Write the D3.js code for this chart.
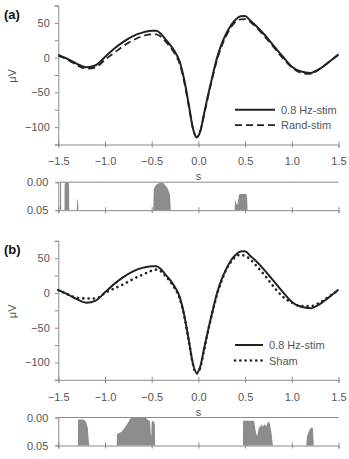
<!DOCTYPE html>
<html>
<head>
<meta charset="utf-8">
<script src="https://cdn.jsdelivr.net/npm/d3@7"></script>
<style>
    body { margin: 0; background: #fff; }
    svg { font-family: "Liberation Sans", Arial, sans-serif; }
</style>
</head>
<body>
<svg id="chart" width="349" height="459"></svg>
<script>
// time points (s) shared by the ERP curves
const times = [-1.5, -1.4, -1.3, -1.2, -1.1, -1.0, -0.9, -0.8, -0.7, -0.6, -0.5, -0.45, -0.4, -0.35,
    -0.3, -0.25, -0.2, -0.15, -0.1, -0.06, -0.02, 0.02, 0.06, 0.1, 0.15, 0.2, 0.25, 0.3, 0.35,
    0.4, 0.45, 0.5, 0.55, 0.6, 0.7, 0.8, 0.9, 1.0, 1.1, 1.2, 1.3, 1.4, 1.5];

// 0.8 Hz-stim (µV)
const stimVals = [4, -2, -9, -14, -11, 1, 13, 23, 31, 36, 38.5, 38.5, 34, 26,
    18, 8, -6, -33, -70, -101, -115, -106, -81, -56, -27, 0, 20, 35, 47,
    55, 59.5, 60, 54, 48, 34, 18, 2, -13, -20, -22, -16, -6, 5];

// Rand-stim (µV)
const randVals = [3, -3, -11, -16, -14, -3, 7, 17, 25, 31, 33.5, 33.5, 30, 23,
    15, 5, -9, -36, -72, -101, -114, -106, -83, -58, -29, -3, 17, 32, 44,
    52, 55, 55.5, 52, 46, 32, 16, 0, -14, -22, -23.5, -16, -6, 4];

// Sham (µV)
const shamVals = [4, -2, -7, -8, -8, 0, 6.5, 12.5, 20, 26, 32, 33.5, 31, 24,
    16, 6, -8, -35, -72, -102, -116, -108, -83, -57, -28, -2, 18, 34, 45,
    52, 55, 53, 49, 42, 27, 10, -5, -14, -19, -19, -14, -5, 4];

// p-values (below 0.05) for panel (a): [time, p]
const pTimesA = [-1.5, -1.482, -1.481, -1.470, -1.469,
    -1.434, -1.432, -1.425, -1.392, -1.385, -1.383,
    -1.302, -1.296, -1.289, -1.284,
    -0.483, -0.478, -0.465, -0.447, -0.411, -0.376, -0.358, -0.329, -0.304, -0.296,
    0.388, 0.393, 0.398, 0.410, 0.418, 0.432, 0.44, 0.514, 0.522, 0.526, 1.5];
const pValsA = [0.05, 0.05, 0.0, 0.0, 0.05,
    0.05, 0.004, 0.0, 0.0, 0.004, 0.05,
    0.05, 0.03, 0.032, 0.05,
    0.05, 0.012, 0.0077, 0.0036, 0.0012, 0.0015, 0.0048, 0.0107, 0.0226, 0.05,
    0.05, 0.031, 0.033, 0.040, 0.040, 0.024, 0.021, 0.021, 0.03, 0.05, 0.05];

// p-values for panel (b)
const pTimesB = [-1.5, -1.29, -1.288, -1.23, -1.205, -1.183, -1.176, -1.169,
    -0.874, -0.872, -0.82, -0.767, -0.731, -0.714, -0.571, -0.553, -0.518, -0.509, -0.505, -0.5, -0.482, -0.466, -0.464,
    0.477, 0.479, 0.596, 0.614, 0.628, 0.646, 0.674, 0.692, 0.710, 0.728, 0.745, 0.763, 0.781, 0.797,
    1.155, 1.162, 1.19, 1.208, 1.226, 1.236, 1.5];
const pValsB = [0.05, 0.05, 0.0036, 0.0036, 0.007, 0.019, 0.037, 0.05,
    0.05, 0.03, 0.025, 0.013, 0.0024, 0.0, 0.0, 0.0024, 0.0071, 0.031, 0.034, 0.0071, 0.006, 0.012, 0.05,
    0.05, 0.006, 0.006, 0.025, 0.034, 0.019, 0.013, 0.016, 0.012, 0.016, 0.007, 0.010, 0.025, 0.05,
    0.05, 0.034, 0.022, 0.018, 0.019, 0.05, 0.05];

const xTicks = [-1.5, -1.0, -0.5, 0.0, 0.5, 1.0, 1.5];
const yTicks = [-125, -100, -75, -50, -25, 0, 25, 50, 75];
const yLabels = [-100, -50, 0, 50];
const pTicks = [0, 0.05];

const svg = d3.select("#chart");
const axisColor = "#8a8a8a";
const textColor = "#555";

const x = d3.scaleLinear().domain([-1.5, 1.5]).range([58.3, 338.5]);

function drawPanel(top, letter, series, legendNames, pTimes, pVals) {
    const g = svg.append("g").attr("transform", `translate(0,${top})`);

    const y = d3.scaleLinear().domain([-125, 75]).range([139.8, 0.8]);

    // y axis
    const yAxis = g.append("g")
        .attr("transform", `translate(${x.range()[0]},0)`)
        .call(d3.axisLeft(y).tickValues(yTicks).tickSize(3.5).tickPadding(5)
            .tickFormat(d => yLabels.includes(d) ? d3.format("d")(d) : ""));

    // x axis
    const xAxis = g.append("g")
        .attr("transform", `translate(0,${y.range()[0]})`)
        .call(d3.axisBottom(x).tickValues(xTicks).tickSize(3).tickPadding(10)
            .tickFormat(d3.format(".1f")));
    xAxis.selectAll(".tick line").attr("y1", -3);

    [yAxis, xAxis].forEach(a => {
        a.select(".domain").attr("stroke", axisColor);
        a.selectAll(".tick line").attr("stroke", axisColor);
        a.selectAll(".tick text").attr("fill", textColor).style("font-size", "11px");
    });

    // axis titles
    g.append("text")
        .attr("transform", `translate(16,${y(-25) + 1}) rotate(-90)`)
        .attr("text-anchor", "middle")
        .attr("fill", textColor)
        .style("font-size", "11px")
        .text("μV");

    g.append("text")
        .attr("x", x(0))
        .attr("y", y.range()[0] + 36)
        .attr("text-anchor", "middle")
        .attr("fill", textColor)
        .style("font-size", "11px")
        .text("s");

    g.append("text")
        .attr("x", 4)
        .attr("y", 14)
        .attr("fill", "#111")
        .style("font-size", "13px")
        .style("font-weight", "bold")
        .text(`(${letter})`);

    // curves
    const line = d3.line()
        .x((d, i) => x(times[i]))
        .y(d => y(d))
        .curve(d3.curveMonotoneX);

    series.forEach(s => {
        g.append("path")
            .datum(s.values)
            .attr("fill", "none")
            .attr("stroke", "#222")
            .attr("stroke-width", s.width)
            .attr("stroke-dasharray", s.dash)
            .attr("stroke-linecap", s.cap)
            .attr("d", line);
    });

    // legend
    const legend = g.append("g");
    series.forEach((s, i) => {
        const ly = 105 + i * 15.5;
        legend.append("line")
            .attr("x1", 235).attr("x2", s.legendEnd)
            .attr("y1", ly).attr("y2", ly)
            .attr("stroke", "#222")
            .attr("stroke-width", s.width)
            .attr("stroke-dasharray", s.dash)
            .attr("stroke-linecap", s.cap);
        legend.append("text")
            .attr("x", s.legendEnd + 6)
            .attr("y", ly + 4)
            .attr("fill", textColor)
            .style("font-size", "11px")
            .text(legendNames[i]);
    });

    // p-value strip
    const p = d3.scaleLinear().domain([0, 0.05]).range([177.5, 205.5]);

    g.append("line")
        .attr("x1", x.range()[0]).attr("x2", x.range()[1])
        .attr("y1", p(0)).attr("y2", p(0))
        .attr("stroke", axisColor);

    const area = d3.area()
        .x((d, i) => x(pTimes[i]))
        .y0(p(0.05))
        .y1(d => p(d));

    g.append("path")
        .datum(pVals)
        .attr("fill", "#8c8c8c")
        .attr("d", area);

    const pAxis = g.append("g")
        .attr("transform", `translate(${x.range()[0]},0)`)
        .call(d3.axisLeft(p).tickValues(pTicks).tickSize(3).tickPadding(7)
            .tickFormat(d3.format(".2f")));

    const pxAxis = g.append("g")
        .attr("transform", `translate(0,${p(0.05)})`)
        .call(d3.axisBottom(x).tickValues(xTicks).tickSize(3).tickFormat(""));
    pxAxis.selectAll(".tick line").attr("y1", -3);

    [pAxis, pxAxis].forEach(a => {
        a.select(".domain").attr("stroke", axisColor);
        a.selectAll(".tick line").attr("stroke", axisColor);
        a.selectAll(".tick text").attr("fill", textColor).style("font-size", "11px");
    });
}

drawPanel(4.7, "a",
    [
        { values: stimVals, width: 2, dash: null, cap: "butt", legendEnd: 275 },
        { values: randVals, width: 1.8, dash: "7,4", cap: "butt", legendEnd: 275 }
    ],
    ["0.8 Hz-stim", "Rand-stim"], pTimesA, pValsA);

drawPanel(240, "b",
    [
        { values: stimVals, width: 2, dash: null, cap: "butt", legendEnd: 263 },
        { values: shamVals, width: 2.6, dash: "0.1,5.2", cap: "round", legendEnd: 263 }
    ],
    ["0.8 Hz-stim", "Sham"], pTimesB, pValsB);
</script>
</body>
</html>
